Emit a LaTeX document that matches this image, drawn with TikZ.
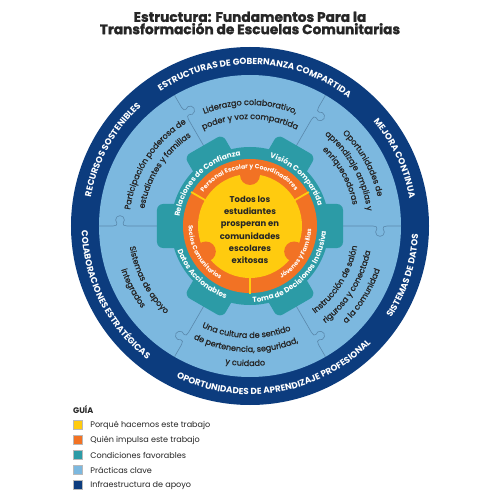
\documentclass[tikz,border=0pt]{standalone}
\usepackage{fontspec}
\setmainfont{Poppins}
\newfontfamily\skyfont[FakeBold=1.2]{Poppins}
\newfontfamily\heavyfont[FakeBold=1.5]{Poppins Bold}
\usepackage{tikz}
\usetikzlibrary{positioning, decorations.text, calc}
\definecolor{NavyRing}{HTML}{0C3C7E}
\definecolor{SkyRing}{HTML}{7CB8DF}
\definecolor{GearTeal}{HTML}{2C9BA6}
\definecolor{CoreOrange}{HTML}{F27224}
\definecolor{CoreYellow}{HTML}{FFCB0F}
\definecolor{SeamBlue}{HTML}{5B8AAE}
\definecolor{InkGray}{HTML}{262626}

\newcommand{\bandfmt}{\fontsize{12.5}{14}\selectfont\bfseries\color{white}}
\newcommand{\skyfmt}{\fontsize{11.5}{13}\skyfont\color{InkGray}}
\newcommand{\gearfmt}{\fontsize{10.5}{12}\selectfont\bfseries\color{white}}
\newcommand{\corefmt}{\fontsize{8.8}{10}\selectfont\bfseries\color{white}}
% curved labels: radius, middle angle, format, text
\newcommand{\ringtextcw}[4]{%
  \path[decorate, decoration={text along path, text align=center, text={|#3|#4}}]
    (#2+80:#1) arc[start angle=#2+80, end angle=#2-80, radius=#1];}
\newcommand{\ringtextccw}[4]{%
  \path[decorate, decoration={text along path, text align=center, text={|#3|#4}}]
    (#2-80:#1) arc[start angle=#2-80, end angle=#2+80, radius=#1];}

\begin{document}
\begin{tikzpicture}[
      seam/.style={draw=SeamBlue, line width=0.9pt},
      keybox/.style={draw=gray!55, line width=0.6pt, minimum size=0.45cm, inner sep=0pt},
      keylabel/.style={font=\fontsize{11.5}{13}\selectfont, text=InkGray, inner sep=0pt}
  ]
    \useasboundingbox[fill=white] (-12.5,-13.7) rectangle (12.5,11.3);
    \node[font=\fontsize{19.5}{17.5}\heavyfont, align=center, text=InkGray] (title) at (0,10.15)
      {Estructura: Fundamentos Para la\\Transformación de Escuelas Comunitarias};

    % outer rings
    \fill[NavyRing] (0,0) circle (8.95);
    \fill[SkyRing] (0,0) circle (7.55);

    % puzzle seams
    \foreach \a/\s in {0/-1, 60/-1, 120/-1, 180/-1, 240/-1, 300/1}{
      \begin{scope}[rotate=\a, yscale=\s]
        \draw[seam] (4.5,0) -- (6.15,0) .. controls (6.3,0) and (6.38,0.06) .. (6.344,0.144)
          arc[start angle=225, end angle=-45, radius=0.22]
          .. controls (6.62,0.06) and (6.7,0) .. (6.85,0) -- (7.55,0);
      \end{scope}
    }

    % gear
    \fill[GearTeal] (0,0) circle (3.95);
    \foreach \a in {0,60,...,300}
      \fill[GearTeal, rotate=\a, rounded corners=0.3cm] (3.5,-1.1) rectangle (4.65,1.1);

    % core
    \fill[CoreOrange] (0,0) circle (3.35);
    \fill[CoreYellow] (0,0) circle (2.6);
    \foreach \a in {90,210,330}
      \fill[CoreOrange] (\a:2.55) circle (0.5);
    \foreach \a in {30,150,270}
      \draw[CoreYellow, line width=2.6pt] (\a:2.55) -- (\a:3.4);
    \node[font=\fontsize{12}{17.5}\selectfont\bfseries, align=center, text=InkGray] (goal) at (0,-0.2)
      {Todos los\\estudiantes\\prosperan en\\comunidades\\escolares\\exitosas};

    % navy band
    \ringtextcw{8.08}{88}{\bandfmt}{ESTRUCTURAS DE GOBERNANZA COMPARTIDA}
    \ringtextcw{8.08}{25}{\bandfmt}{MEJORA CONTINUA}
    \ringtextcw{8.08}{151}{\bandfmt}{RECURSOS SOSTENIBLES}
    \ringtextccw{8.42}{-18}{\bandfmt}{SISTEMAS DE DATOS}
    \ringtextccw{8.42}{-80}{\bandfmt}{OPORTUNIDADES DE APRENDIZAJE PROFESIONAL}
    \ringtextccw{8.42}{207}{\bandfmt}{COLABORACIONES ESTRATÉGICAS}

    % practices
    \ringtextcw{6.05}{90}{\skyfmt}{Liderazgo colaborativo,}
    \ringtextcw{5.35}{90}{\skyfmt}{poder y voz compartida}
    \ringtextcw{6.05}{147}{\skyfmt}{Participación poderosa de}
    \ringtextcw{5.35}{147}{\skyfmt}{estudiantes y familias}
    \ringtextcw{6.55}{29}{\skyfmt}{Oportunidades de}
    \ringtextcw{5.9}{29}{\skyfmt}{aprendizaje amplias y}
    \ringtextcw{5.25}{29}{\skyfmt}{enriquecedoras}
    \ringtextccw{5.45}{-32}{\skyfmt}{Instrucción de salón}
    \ringtextccw{6.15}{-32}{\skyfmt}{rigurosa y conectada}
    \ringtextccw{6.85}{-32}{\skyfmt}{a la comunidad}
    \ringtextccw{5.6}{-92}{\skyfmt}{Una cultura de sentido}
    \ringtextccw{6.3}{-92}{\skyfmt}{de pertenencia, seguridad,}
    \ringtextccw{7.0}{-92}{\skyfmt}{y cuidado}
    \ringtextccw{6.1}{208}{\skyfmt}{Sistemas de apoyo}
    \ringtextccw{6.8}{208}{\skyfmt}{integrados}

    % conditions
    \ringtextcw{3.55}{135}{\gearfmt}{Relaciones de Confianza}
    \ringtextcw{3.55}{45}{\gearfmt}{Visión Compartida}
    \ringtextccw{3.82}{-46}{\gearfmt}{Toma de Decisiones Inclusiva}
    \ringtextccw{3.82}{225}{\gearfmt}{Datos Accionables}

    % drivers
    \ringtextcw{2.87}{91}{\corefmt}{Personal Escolar y Coordinadores}
    \ringtextccw{3.07}{210}{\corefmt}{Socios Comunitarios}
    \ringtextccw{3.07}{329}{\corefmt}{Jóvenes y Familias}

    % legend
    \node[font=\fontsize{11.5}{13}\selectfont\bfseries, text=InkGray, anchor=west, inner sep=0pt] (guia) at (-8.85,-9.2) {GUÍA};
    \foreach \c/\t [count=\i] in {CoreYellow/Porqué hacemos este trabajo, CoreOrange/Quién impulsa este trabajo,
        GearTeal/Condiciones favorables, SkyRing/Prácticas clave, NavyRing/Infraestructura de apoyo}{
      \node[keybox, fill=\c] (key\i) at (-8.625,-9.2-0.75*\i) {};
      \node[keylabel, right=0.4cm of key\i] (lab\i) {\t};
    }
  \end{tikzpicture}
\end{document}
